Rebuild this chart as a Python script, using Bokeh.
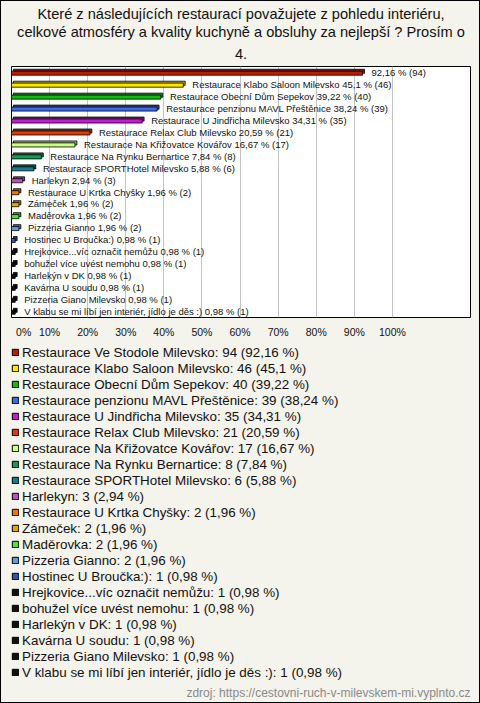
from bokeh.plotting import figure
from bokeh.layouts import column
from bokeh.models import Range1d, FixedTicker, Title, Legend, LegendItem, ColumnDataSource
from bokeh.transform import dodge
from bokeh.core.properties import value
from bokeh.embed import file_html
from bokeh.resources import INLINE

title_lines = [
    "Které z následujících restaurací považujete z pohledu interiéru,",
    "celkové atmosféry a kvality kuchyně a obsluhy za nejlepší ? Prosím o",
    "4.",
]
names = [
    "Restaurace Ve Stodole Milevsko",
    "Restaurace Klabo Saloon Milevsko",
    "Restaurace Obecní Dům Sepekov",
    "Restaurace penzionu MAVL Přeštěnice",
    "Restaurace U Jindřicha Milevsko",
    "Restaurace Relax Club Milevsko",
    "Restaurace Na Křižovatce Kovářov",
    "Restaurace Na Rynku Bernartice",
    "Restaurace SPORTHotel Milevsko",
    "Harlekyn",
    "Restaurace U Krtka Chyšky",
    "Zámeček",
    "Maděrovka",
    "Pizzeria Gianno",
    "Hostinec U Broučka:)",
    "Hrejkovice...víc označit nemůžu",
    "bohužel více uvést nemohu",
    "Harlekýn v DK",
    "Kavárna U soudu",
    "Pizzeria Giano Milevsko",
    "V klabu se mi líbí jen interiér, jídlo je děs :)",
]
counts = [94, 46, 40, 39, 35, 21, 17, 8, 6, 3, 2, 2, 2, 2, 1, 1, 1, 1, 1, 1, 1]
percents = [92.16, 45.1, 39.22, 38.24, 34.31, 20.59, 16.67, 7.84, 5.88, 2.94,
            1.96, 1.96, 1.96, 1.96, 0.98, 0.98, 0.98, 0.98, 0.98, 0.98, 0.98]
tick_values = [0, 10, 20, 30, 40, 50, 60, 70, 80, 90, 100]
tick_labels = ["0%", "10%", "20%", "30%", "40%", "50%", "60%", "70%", "80%", "90%", "100%"]
source_note = "zdroj: https://cestovni-ruch-v-milevskem-mi.vyplnto.cz"

colors = ["#b81c0c", "#ffe600", "#16b816", "#3f6ae8", "#c81ad0", "#dc3c0a",
          "#ccff88", "#159a5a", "#197a8c", "#b854b8", "#e8780c", "#dcaa08",
          "#5adc3a", "#6a96dc", "#3454a8", "#111111", "#111111", "#111111",
          "#111111", "#111111", "#111111"]

FONT = "Liberation Sans"
BG = "#f4f3ec"


def fmt(v):
    return f"{v:g}".replace(".", ",")


def darker(c, f=0.72):
    r, g, b = int(c[1:3], 16), int(c[3:5], 16), int(c[5:7], 16)
    return "#%02x%02x%02x" % (int(r * f), int(g * f), int(b * f))


bar_labels = []
legend_labels = []
for n, c, v in zip(names, counts, percents):
    head = (n + " ") if v < 60 else ""
    bar_labels.append(f"{head}{fmt(v)} % ({c})")
    legend_labels.append(f"{n}: {c} ({fmt(v)} %)")

src = ColumnDataSource(dict(
    name=names, pct=percents, pct3d=[v + 0.5 for v in percents],
    color=colors, back=[darker(c) for c in colors], label=bar_labels,
))

# ---------------- main chart ----------------
p = figure(
    width=478, height=340, output_backend="svg", toolbar_location=None,
    y_range=list(reversed(names)), x_range=Range1d(0, 120.5),
    min_border_left=10, min_border_right=9, min_border_top=65, min_border_bottom=24,
    background_fill_color="white", border_fill_color=BG,
    outline_line_color="black", outline_line_width=1,
)

for i, line in enumerate(reversed(title_lines)):
    t = Title(text=line, align="center", text_font=FONT, text_font_size="14.6px",
              text_font_style="normal", text_color="#111111", text_line_height=0.82,
              standoff=15 if i == 0 else 0)
    p.add_layout(t, "above")

p.hbar(y=dodge("name", 0.1, range=p.y_range), left=0.5, right="pct3d", height=0.34,
       fill_color="back", line_color="black", line_width=0.8, source=src)
p.hbar(y=dodge("name", -0.06, range=p.y_range), left=0, right="pct", height=0.34,
       fill_color="color", line_color="black", line_width=0.8, source=src)

p.text(x="pct", y="name", text="label", source=src, x_offset=9,
       text_font=value(FONT), text_font_size="9.5px", text_baseline="middle",
       text_color="#111111")

p.yaxis.visible = False
p.ygrid.grid_line_color = None
p.xgrid.ticker = FixedTicker(ticks=tick_values[1:])
p.xgrid.grid_line_color = "#c4c4c4"

ax = p.xaxis[0]
ax.ticker = FixedTicker(ticks=tick_values)
overrides = {t: l for t, l in zip(tick_values, tick_labels)}
overrides[0] = "\u00a0" * 5 + tick_labels[0]
ax.major_label_overrides = overrides
ax.axis_line_color = None
ax.major_tick_line_color = None
ax.minor_tick_line_color = None
ax.major_tick_in = 0
ax.major_tick_out = 0
ax.major_label_standoff = 8
ax.major_label_text_font = FONT
ax.major_label_text_font_size = "10.5px"
ax.major_label_text_color = "#111111"

# ---------------- legend panel ----------------
q = figure(
    width=478, height=361, output_backend="svg", toolbar_location=None,
    y_range=list(reversed(names)), x_range=Range1d(0, 100),
    min_border_left=8, min_border_right=0, min_border_top=3, min_border_bottom=20,
    background_fill_color=BG, border_fill_color=BG, outline_line_color=None,
)
q.axis.visible = False
q.grid.grid_line_color = None
leg_r = q.hbar(y="name", left=0, right="pct", height=0.5, fill_color="color",
               line_color="black", line_width=1, source=src)
leg_r.visible = False

legend = Legend(
    items=[LegendItem(label=l, renderers=[leg_r], index=i) for i, l in enumerate(legend_labels)],
    location="top_left", orientation="vertical", margin=0, padding=0, spacing=0,
    glyph_width=8, glyph_height=8, label_height=16, label_standoff=3,
    label_text_font=FONT, label_text_font_size="13.4px", label_text_color="#111111",
    border_line_color=None, background_fill_alpha=0,
    inactive_fill_alpha=0,
)
q.add_layout(legend, "center")

q.add_layout(Title(text=source_note, align="right", text_font=FONT, text_font_size="12px",
                   text_font_style="normal", text_color="#8a8a8a", standoff=5, offset=0),
             "below")

layout = column(p, q, spacing=0, styles={"border": "1px solid black", "background-color": BG})

open("out.html", "w").write(file_html(layout, INLINE))
